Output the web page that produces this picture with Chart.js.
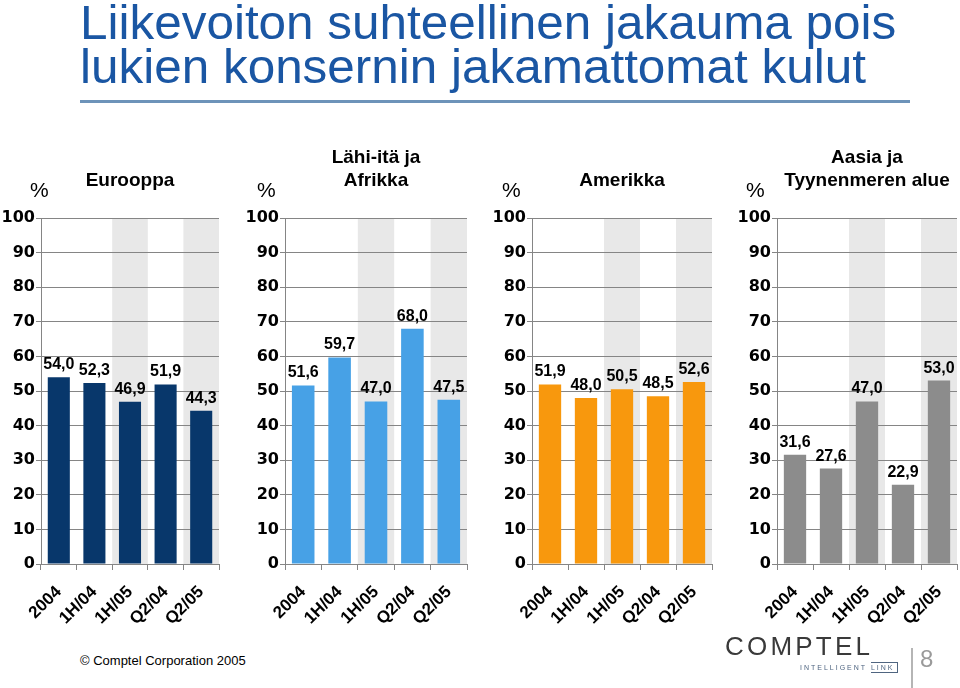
<!DOCTYPE html>
<html>
<head>
<meta charset="utf-8">
<script src="https://cdn.jsdelivr.net/npm/chart.js@4"></script>
<style>
  body { margin: 0; width: 960px; height: 688px; position: relative; overflow: hidden; background: #fff;
         font-family: "Liberation Sans", Arial, sans-serif; }
  canvas { position: absolute; top: 130px; }
  #title { position: absolute; left: 80px; top: 1px; font-size: 48px; line-height: 44px; color: #1a56a3;
           white-space: nowrap; transform-origin: left top; transform: scaleX(1.03); }
  #rule { position: absolute; left: 80px; top: 100px; width: 830px; height: 3px; background: #6d93b9; }
  #copy { position: absolute; left: 80px; top: 653px; font-size: 13px; color: #000; }
  #logo { position: absolute; left: 725px; top: 631px; font-size: 26px; letter-spacing: 3.2px; color: #3a3a3a; }
  #tag { position: absolute; left: 800px; top: 664px; font-size: 7px; letter-spacing: 2px; color: #4f6580; }
  #tag span { border: 1px solid #4f6580; border-left: none; padding: 1px 2px 1px 0; }
  #sep { position: absolute; left: 911px; top: 648px; width: 2px; height: 40px; background: #b5b5b5; }
  #page { position: absolute; left: 920px; top: 645px; font-size: 24px; color: #9a9a9a; }
</style>
</head>
<body>
<div id="title">Liikevoiton suhteellinen jakauma pois<br>lukien konsernin jakamattomat kulut</div>
<div id="rule"></div>

<canvas id="c1" width="222" height="514" style="left:0px"></canvas>
<canvas id="c2" width="226" height="514" style="left:244px"></canvas>
<canvas id="c3" width="225" height="514" style="left:490px"></canvas>
<canvas id="c4" width="225" height="514" style="left:735px"></canvas>

<div id="copy">© Comptel Corporation 2005</div>
<div id="logo">COMPTEL</div>
<div id="tag">INTELLIGENT <span>LINK</span></div>
<div id="sep"></div>
<div id="page">8</div>

<script>
// Data
const categories = ['2004', '1H/04', '1H/05', 'Q2/04', 'Q2/05'];
const eurooppa = [54.0, 52.3, 46.9, 51.9, 44.3];
const lahiIta = [51.6, 59.7, 47.0, 68.0, 47.5];
const amerikka = [51.9, 48.0, 50.5, 48.5, 52.6];
const aasia = [31.6, 27.6, 47.0, 22.9, 53.0];
const yMin = 0, yMax = 100, yStep = 10;
const shadedCategories = [2, 4];

const FONT = '"Liberation Sans", Arial, sans-serif';
const WIDE = '"DejaVu Sans", "Liberation Sans", sans-serif';
const GRID = '#858585';

// grey bands behind some categories, under the grid lines
const bandPlugin = {
    id: 'bands',
    beforeDraw(chart) {
        const x = chart.scales.x, area = chart.chartArea, ctx = chart.ctx;
        const half = (x.getPixelForValue(1) - x.getPixelForValue(0)) / 2;
        ctx.save();
        ctx.fillStyle = '#e8e8e8';
        shadedCategories.forEach(i => {
            const cx = x.getPixelForValue(i);
            ctx.fillRect(cx - half, area.top, half * 2, area.bottom - area.top);
        });
        ctx.restore();
    }
};

// value labels above bars, comma decimals
const valuePlugin = {
    id: 'values',
    afterDatasetsDraw(chart) {
        const ctx = chart.ctx;
        const meta = chart.getDatasetMeta(0);
        const data = chart.data.datasets[0].data;
        ctx.save();
        ctx.font = 'bold 16px ' + FONT;
        ctx.fillStyle = '#000';
        ctx.textAlign = 'center';
        ctx.textBaseline = 'alphabetic';
        meta.data.forEach((bar, i) => {
            ctx.fillText(data[i].toFixed(1).replace('.', ','), bar.x, bar.y - 8);
        });
        ctx.restore();
    }
};

// panel heading and the % sign
const headerPlugin = {
    id: 'header',
    afterDraw(chart, args, opts) {
        const ctx = chart.ctx, area = chart.chartArea;
        const cx = (area.left + area.right) / 2;
        ctx.save();
        ctx.fillStyle = '#000';
        ctx.textAlign = 'center';
        ctx.font = 'bold 19px ' + FONT;
        const lines = opts.lines;
        lines.forEach((t, i) => {
            ctx.fillText(t, cx, area.top - 32 - (lines.length - 1 - i) * 23);
        });
        ctx.textAlign = 'left';
        ctx.font = '21px ' + FONT;
        ctx.fillText('%', area.left - opts.pctOffset, area.top - 21);
        ctx.restore();
    }
};

function makePanel(id, values, color, lines, pctOffset, axisWidth) {
    new Chart(document.getElementById(id), {
        type: 'bar',
        data: {
            labels: categories,
            datasets: [{
                data: values,
                backgroundColor: color,
                categoryPercentage: 1,
                barPercentage: 0.62
            }]
        },
        options: {
            responsive: false,
            animation: false,
            devicePixelRatio: 1,
            layout: { padding: { top: 88, right: 3, left: 0, bottom: 0 } },
            plugins: {
                legend: { display: false },
                tooltip: { enabled: false },
                header: { lines: lines, pctOffset: pctOffset }
            },
            scales: {
                x: {
                    offset: true,
                    grid: { display: true, drawOnChartArea: false, drawTicks: true, tickLength: 6, color: GRID, offset: true },
                    border: { display: true, color: GRID },
                    ticks: {
                        color: '#000',
                        font: { family: FONT, size: 17, weight: 'bold' },
                        minRotation: 45, maxRotation: 45, padding: 12, autoSkip: false
                    },
                    afterFit: s => { s.height = 80; s.paddingRight = 0; s.paddingLeft = 0; }
                },
                y: {
                    min: yMin, max: yMax,
                    grid: { color: GRID, lineWidth: 1, tickLength: 5 },
                    border: { display: true, color: GRID },
                    ticks: {
                        stepSize: yStep,
                        color: '#000',
                        padding: 1,
                        font: { family: WIDE, size: 16, weight: 'bold' }
                    },
                    afterFit: s => { s.width = axisWidth; }
                }
            }
        },
        plugins: [bandPlugin, valuePlugin, headerPlugin]
    });
}

makePanel('c1', eurooppa, '#08376b', ['Eurooppa'], 11, 41);
makePanel('c2', lahiIta, '#47a1e6', ['Lähi-itä ja', 'Afrikka'], 28, 41);
makePanel('c3', amerikka, '#f8980d', ['Amerikka'], 30, 42);
makePanel('c4', aasia, '#8c8c8c', ['Aasia ja', 'Tyynenmeren alue'], 31, 42);
</script>
</body>
</html>
